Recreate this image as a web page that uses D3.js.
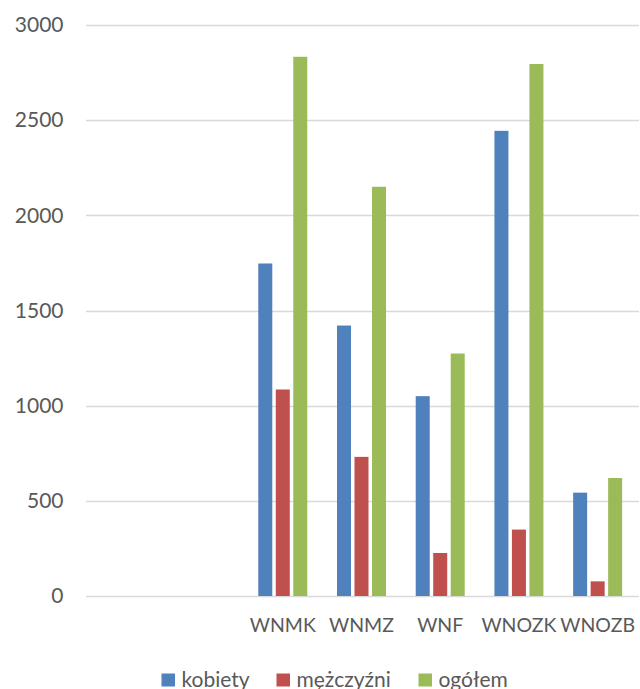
<!DOCTYPE html>
<html>
<head>
<meta charset="utf-8">
<script src="https://cdn.jsdelivr.net/npm/d3@7"></script>
<style>
  html, body { margin: 0; padding: 0; background: #ffffff; }
  svg { display: block; }
  text { font-family: Lato, "Open Sans", sans-serif; fill: #595959; }
</style>
</head>
<body>
<svg id="chart" width="640" height="689"></svg>
<script>
// Category labels (the first two slots are empty on the axis)
const categories = ["", "", "WNMK", "WNMZ", "WNF", "WNOZK", "WNOZB"];
const seriesNames = ["kobiety", "mężczyźni", "ogółem"];
const seriesColors = ["#4f81bd", "#c0504d", "#9bbb59"];
const kobiety   = [null, null, 1747, 1421, 1050, 2444, 543];
const mezczyzni = [null, null, 1085, 731, 226, 349, 77];
const ogolem    = [null, null, 2833, 2150, 1274, 2795, 620];
const yTicks = [0, 500, 1000, 1500, 2000, 2500, 3000];

const seriesValues = [kobiety, mezczyzni, ogolem];

const svg = d3.select("#chart");
const plot = { left: 86, right: 637, top: 25, bottom: 596 };

const x0 = d3.scaleBand()
  .domain(d3.range(categories.length))
  .range([plot.left, plot.right])
  .paddingInner(0)
  .paddingOuter(0);

const groupWidth = 49;
const x1 = d3.scaleBand()
  .domain(d3.range(seriesNames.length))
  .range([0, groupWidth])
  .paddingInner(0.2);

const y = d3.scaleLinear().domain([0, 3000]).range([plot.bottom, plot.top]);

// Horizontal gridlines
svg.append("g")
  .selectAll("line")
  .data(yTicks)
  .join("line")
  .attr("x1", plot.left)
  .attr("x2", plot.right + 2)
  .attr("y1", d => Math.round(y(d)) + 0.5)
  .attr("y2", d => Math.round(y(d)) + 0.5)
  .attr("stroke", "#d9d9d9")
  .attr("stroke-width", 1.3);

// Y axis labels
const yAxis = d3.axisLeft(y).tickValues(yTicks).tickSize(0).tickPadding(0).tickFormat(d3.format("d"));
const yg = svg.append("g")
  .attr("transform", "translate(63.5,0)")
  .call(yAxis);
yg.select(".domain").remove();
yg.selectAll("text")
  .attr("font-size", 21)
  .attr("font-family", null)
  .attr("fill", "#595959");

// Category axis labels
const xAxis = d3.axisBottom(x0).tickSize(0).tickPadding(0).tickFormat(i => categories[i]);
const xg = svg.append("g")
  .attr("transform", "translate(0,618.5)")
  .call(xAxis);
xg.select(".domain").remove();
xg.selectAll("text")
  .attr("font-size", 19.5)
  .attr("font-family", null)
  .attr("fill", "#595959");

// Bars
const groups = svg.append("g")
  .selectAll("g")
  .data(categories.map((c, i) => i))
  .join("g")
  .attr("transform", i => `translate(${x0(i) + x0.bandwidth() / 2 - groupWidth / 2},0)`);

groups.selectAll("rect")
  .data(i => seriesValues.map((vals, s) => ({ s, v: vals[i] })).filter(d => d.v != null))
  .join("rect")
  .attr("x", d => x1(d.s))
  .attr("y", d => y(d.v))
  .attr("width", x1.bandwidth())
  .attr("height", d => y(0) - y(d.v))
  .attr("fill", d => seriesColors[d.s]);

// Legend
const legendX = [161.5, 276.5, 418.5];
const legend = svg.append("g")
  .selectAll("g")
  .data(seriesNames)
  .join("g")
  .attr("transform", (d, i) => `translate(${legendX[i]},673.5)`);
legend.append("rect")
  .attr("width", 13.5)
  .attr("height", 13)
  .attr("fill", (d, i) => seriesColors[i]);
legend.append("text")
  .attr("x", 20)
  .attr("y", 13)
  .attr("font-size", 21)
  .text(d => d);
</script>
</body>
</html>
